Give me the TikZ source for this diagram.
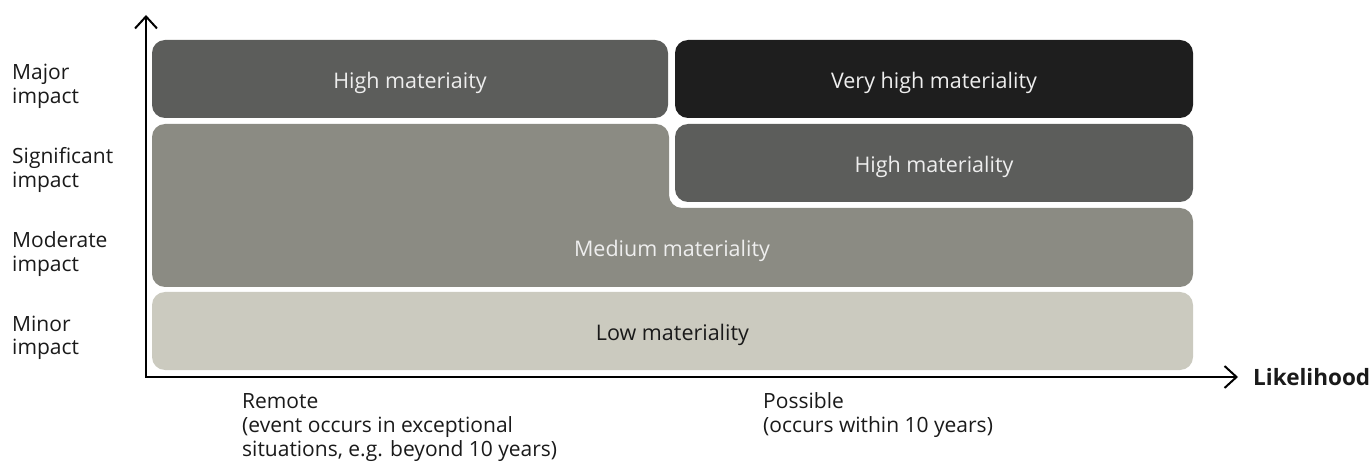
\documentclass[tikz,border=0pt]{standalone}
\usepackage{fontspec}
\setmainfont{Open Sans}
\usetikzlibrary{arrows.meta}
\definecolor{cdark}{HTML}{5C5D5B}
\definecolor{cvdark}{HTML}{1E1E1E}
\definecolor{cmed}{HTML}{8B8B83}
\definecolor{clow}{HTML}{CBCABF}
\definecolor{clight}{HTML}{EEEEEE}
\definecolor{ctext}{HTML}{1A1A1A}
\tikzset{
  matbox/.style={rounded corners=13, inner sep=0, minimum height=78, text=clight,
    text height=20, text depth=0,
    font=\fontsize{21.5}{26}\selectfont},
  axlabel/.style={anchor=base west, align=left, inner sep=0, text=ctext,
    font=\fontsize{21}{24}\selectfont},
  axisline/.style={line width=2, draw=black, {Straight Barb[length=12, width=22, line width=2]}-{Straight Barb[length=12, width=22, line width=2]}}
}
\begin{document}
\begin{tikzpicture}[x=1pt, y=-1pt]
\useasboundingbox (0,0) rectangle (1371,470);
% boxes
\node[matbox, fill=cdark, minimum width=516] (hm1) at (410,79) {High materiaity};
\node[matbox, fill=cvdark, minimum width=518] (vhm) at (934,79) {Very high materiality};
\fill[cmed, rounded corners=13] (400,124) -- (669,124) -- (669,208) -- (1193,208) -- (1193,287) -- (152,287) -- (152,124) -- cycle;
\node[matbox, fill=cdark, minimum width=518] (hm2) at (934,163) {High materiality};
\node[matbox, minimum width=10, text=clight] (mm) at (672,247) {Medium materiality};
\node[matbox, fill=clow, minimum width=1041, text=ctext] (lm) at (672.5,331) {Low materiality};
% axes
\coordinate (ytip) at (146,15);
\coordinate (origin) at (146,377);
\coordinate (xtip) at (1238,377);
\draw[axisline] (ytip) -- (origin) -- (xtip);
% axis labels
\node[axlabel] (l1) at (12,104) {Major\\impact};
\node[axlabel] (l2) at (12,188) {Significant\\impact};
\node[axlabel] (l3) at (12,272) {Moderate\\impact};
\node[axlabel] (l4) at (12,355) {Minor\\impact};
\node[axlabel] (rem) at (242,456) {Remote\\(event occurs in exceptional\\situations, e.g. beyond 10 years)};
\node[axlabel] (pos) at (763,432) {Possible\\(occurs within 10 years)};
\node[axlabel, font=\fontsize{22.5}{26}\selectfont\bfseries] (lik) at (1253,385) {Likelihood};
\end{tikzpicture}
\end{document}
